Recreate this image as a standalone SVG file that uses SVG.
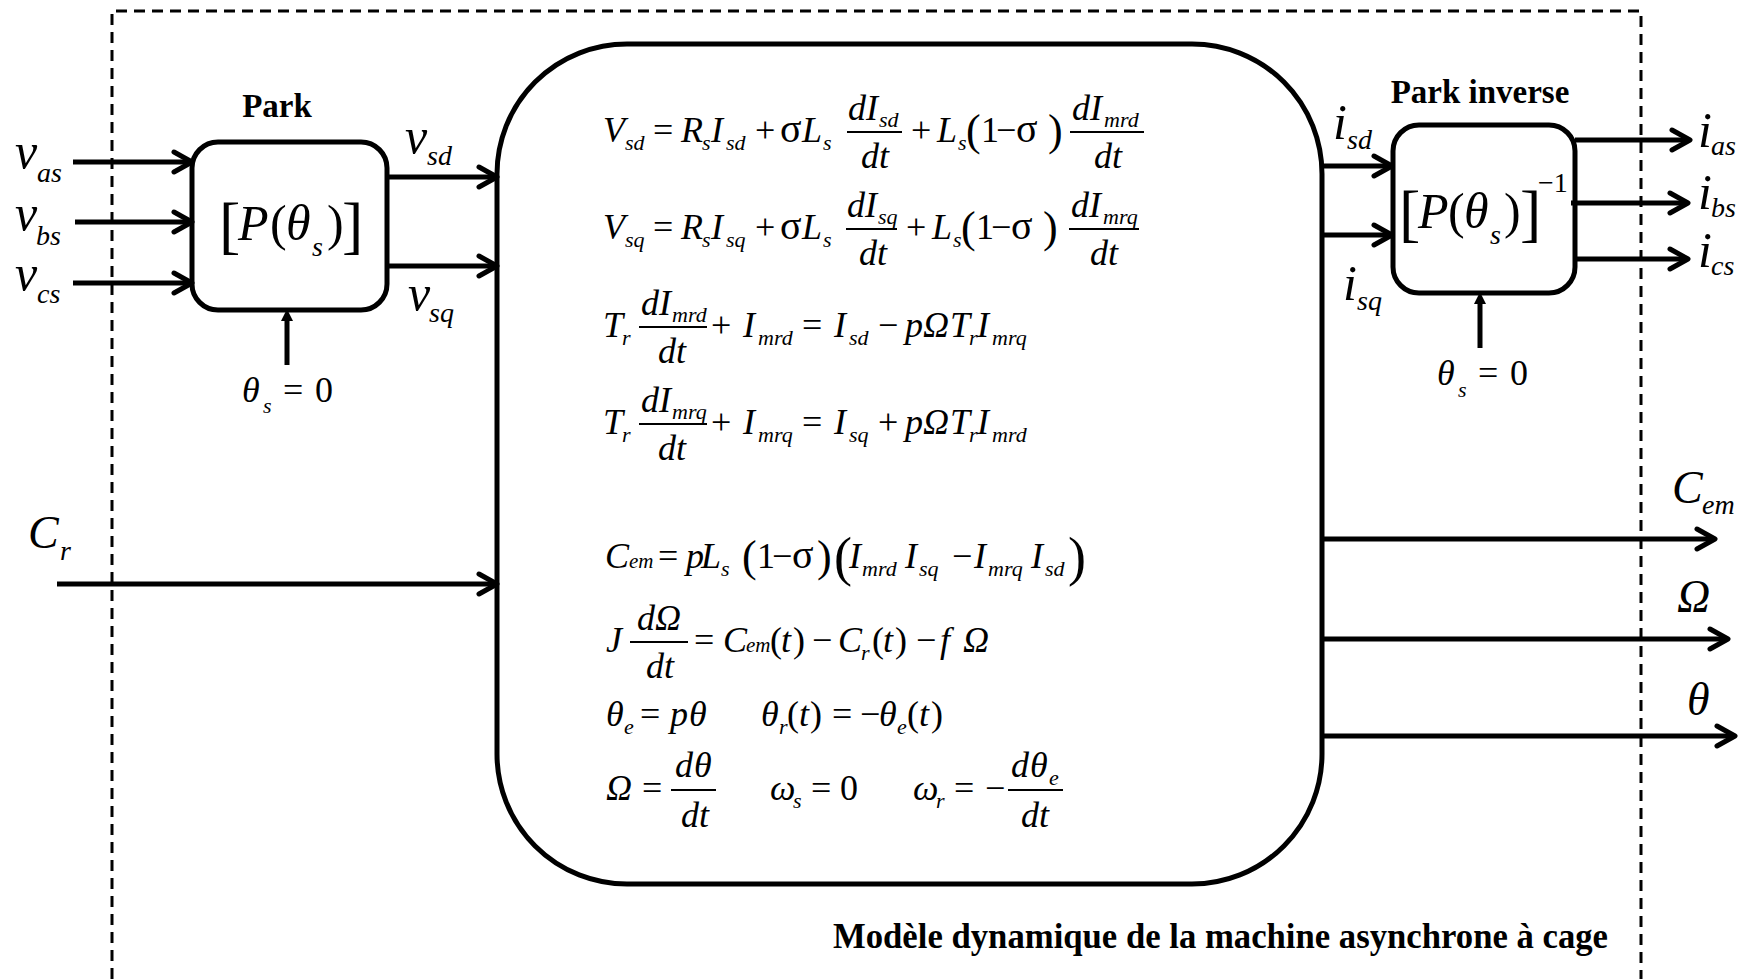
<svg xmlns="http://www.w3.org/2000/svg" width="1742" height="979" viewBox="0 0 1742 979">
<style>
.m{font-family:"Liberation Serif","Times New Roman",serif;font-style:italic;font-size:36px;fill:#000}
.r{font-style:normal}
.g{font-style:normal;font-size:40px}
.sb{font-size:22px}
.em{font-size:21px}
.pb{font-style:normal;font-size:44px}
.pB{font-style:normal;font-size:54px}
.lb{font-family:"Liberation Serif","Times New Roman",serif;font-style:italic;font-size:50px;fill:#000}
.ls{font-size:28px}
.bt{font-family:"Liberation Serif","Times New Roman",serif;font-weight:bold;font-size:33px;fill:#000}
.bar{stroke:#000;stroke-width:1.8}
.cn{stroke:#000;stroke-width:5;fill:none;marker-end:url(#ah)}
.box{fill:none;stroke:#000;stroke-width:5}
.dash{fill:none;stroke:#000;stroke-width:3;stroke-dasharray:11 7}
</style>
<defs>
<marker id="ah" markerUnits="userSpaceOnUse" viewBox="-22 -13 26 26" markerWidth="26" markerHeight="26" refX="0" refY="0" orient="auto">
<path d="M-18,-10 L0,0 L-18,10" fill="none" stroke="#000" stroke-width="5" stroke-linecap="round" stroke-linejoin="round"/>
</marker>
</defs>
<rect width="1742" height="979" fill="#fff"/>
<path id="frame" class="dash" d="M112,979 V11 H1641 V979"/>

<g id="connectors">
<line class="cn" x1="73" y1="162" x2="192" y2="162"/>
<line class="cn" x1="75" y1="222" x2="192" y2="222"/>
<line class="cn" x1="73" y1="283" x2="192" y2="283"/>
<line class="cn" x1="387" y1="177" x2="497" y2="177"/>
<line class="cn" x1="387" y1="266" x2="497" y2="266"/>
<line class="cn" x1="57" y1="584" x2="497" y2="584"/>
<line x1="287" y1="365" x2="287" y2="318" stroke="#000" stroke-width="5"/>
<polygon points="281,321 287,309 293,321" fill="#000"/>
<line class="cn" x1="1322" y1="166" x2="1392" y2="166"/>
<line class="cn" x1="1322" y1="235" x2="1392" y2="235"/>
<line class="cn" x1="1575" y1="140" x2="1690" y2="140"/>
<line class="cn" x1="1571" y1="203" x2="1688" y2="203"/>
<line class="cn" x1="1575" y1="259" x2="1688" y2="259"/>
<line x1="1480" y1="348" x2="1480" y2="301" stroke="#000" stroke-width="5"/>
<polygon points="1474,304 1480,292 1486,304" fill="#000"/>
<line class="cn" x1="1322" y1="539" x2="1715" y2="539"/>
<line class="cn" x1="1322" y1="639" x2="1728" y2="639"/>
<line class="cn" x1="1322" y1="736" x2="1735" y2="736"/>
</g>

<g id="labels">
<text class="lb"><tspan x="15" y="168">v</tspan><tspan class="ls" x="37" y="182">as</tspan></text>
<text class="lb"><tspan x="15" y="230">v</tspan><tspan class="ls" x="36" y="245">bs</tspan></text>
<text class="lb"><tspan x="15" y="290">v</tspan><tspan class="ls" x="37" y="303">cs</tspan></text>
<text class="lb"><tspan x="405" y="153">v</tspan><tspan class="ls" x="427" y="165">sd</tspan></text>
<text class="lb"><tspan x="408" y="310">v</tspan><tspan class="ls" x="429" y="322">sq</tspan></text>
<text class="lb"><tspan x="28" y="548" style="font-size:46px">C</tspan><tspan class="ls" x="60" y="560">r</tspan></text>
<text class="lb"><tspan x="1333" y="139">i</tspan><tspan class="ls" x="1347" y="149">sd</tspan></text>
<text class="lb"><tspan x="1343" y="300">i</tspan><tspan class="ls" x="1357" y="310">sq</tspan></text>
<text class="lb"><tspan x="1698" y="147">i</tspan><tspan class="ls" x="1711" y="155">as</tspan></text>
<text class="lb"><tspan x="1698" y="209">i</tspan><tspan class="ls" x="1711" y="217">bs</tspan></text>
<text class="lb"><tspan x="1698" y="267">i</tspan><tspan class="ls" x="1711" y="275">cs</tspan></text>
<text class="lb"><tspan x="1672" y="503" style="font-size:46px">C</tspan><tspan class="ls" x="1702" y="514">em</tspan></text>
<text class="lb" x="1677" y="612" style="font-size:46px">Ω</text>
<text class="lb" x="1687" y="715" style="font-size:46px">θ</text>
</g>

<g id="park">
<rect class="box" x="192" y="142" width="195" height="168" rx="26"/>
<text class="bt" x="277" y="117" text-anchor="middle">Park</text>
<text class="m"><tspan class="r" x="219" y="246" style="font-size:64px">[</tspan><tspan x="238" y="240" style="font-size:50px">P</tspan><tspan class="r" x="270" y="240" style="font-size:50px">(</tspan><tspan x="286" y="240" style="font-size:50px">θ</tspan><tspan x="312" y="256" style="font-size:28px">s</tspan><tspan class="r" x="327" y="240" style="font-size:50px">)</tspan><tspan class="r" x="342" y="246" style="font-size:64px">]</tspan></text>
<text class="m"><tspan x="242" y="402">θ</tspan><tspan class="sb" x="263" y="413">s</tspan><tspan class="r" x="283" y="402">=</tspan><tspan class="r" x="315" y="402">0</tspan></text>
</g>

<g id="park_inverse">
<rect class="box" x="1393" y="125" width="182" height="168" rx="26"/>
<text class="bt" x="1480" y="103" text-anchor="middle">Park inverse</text>
<text class="m"><tspan class="r" x="1399" y="234" style="font-size:64px">[</tspan><tspan x="1418" y="228" style="font-size:50px">P</tspan><tspan class="r" x="1448" y="228" style="font-size:50px">(</tspan><tspan x="1464" y="228" style="font-size:50px">θ</tspan><tspan x="1490" y="244" style="font-size:28px">s</tspan><tspan class="r" x="1504" y="228" style="font-size:50px">)</tspan><tspan class="r" x="1520" y="234" style="font-size:64px">]</tspan><tspan class="r" x="1538" y="192" style="font-size:28px">−1</tspan></text>
<text class="m"><tspan x="1437" y="385">θ</tspan><tspan class="sb" x="1458" y="397">s</tspan><tspan class="r" x="1478" y="385">=</tspan><tspan class="r" x="1510" y="385">0</tspan></text>
</g>

<g id="model">
<rect class="box" x="497" y="44" width="825" height="840" rx="130"/>
<!-- eq1 -->
<text class="m"><tspan x="603" y="142">V</tspan><tspan class="sb" x="625" y="150">sd</tspan><tspan class="r" x="653" y="142">=</tspan><tspan x="681" y="142">R</tspan><tspan class="sb" x="702" y="150">s</tspan><tspan x="711" y="142">I</tspan><tspan class="sb" x="726" y="150">sd</tspan><tspan class="r" x="755" y="142">+</tspan><tspan class="g" x="780" y="142">σ</tspan><tspan x="802" y="142">L</tspan><tspan class="sb" x="823" y="150">s</tspan><tspan x="848" y="120">dI</tspan><tspan class="sb" x="879" y="127">sd</tspan><tspan x="861" y="168">dt</tspan><tspan class="r" x="911" y="142">+</tspan><tspan x="937" y="142">L</tspan><tspan class="sb" x="958" y="150">s</tspan><tspan class="pb" x="966" y="145">(</tspan><tspan class="r" x="981" y="142">1</tspan><tspan class="r" x="996" y="142">−</tspan><tspan class="g" x="1016" y="142">σ</tspan><tspan class="pb" x="1048" y="145">)</tspan><tspan x="1072" y="120">dI</tspan><tspan class="sb" x="1104" y="127">mrd</tspan><tspan x="1094" y="168">dt</tspan></text>
<line class="bar" x1="847" y1="132" x2="902" y2="132"/>
<line class="bar" x1="1070" y1="132" x2="1144" y2="132"/>
<!-- eq2 -->
<text class="m"><tspan x="603" y="239">V</tspan><tspan class="sb" x="625" y="247">sq</tspan><tspan class="r" x="653" y="239">=</tspan><tspan x="681" y="239">R</tspan><tspan class="sb" x="702" y="247">s</tspan><tspan x="711" y="239">I</tspan><tspan class="sb" x="726" y="247">sq</tspan><tspan class="r" x="755" y="239">+</tspan><tspan class="g" x="780" y="239">σ</tspan><tspan x="802" y="239">L</tspan><tspan class="sb" x="823" y="247">s</tspan><tspan x="847" y="217">dI</tspan><tspan class="sb" x="878" y="224">sq</tspan><tspan x="859" y="265">dt</tspan><tspan class="r" x="906" y="239">+</tspan><tspan x="932" y="239">L</tspan><tspan class="sb" x="953" y="247">s</tspan><tspan class="pb" x="961" y="242">(</tspan><tspan class="r" x="976" y="239">1</tspan><tspan class="r" x="991" y="239">−</tspan><tspan class="g" x="1011" y="239">σ</tspan><tspan class="pb" x="1043" y="242">)</tspan><tspan x="1071" y="217">dI</tspan><tspan class="sb" x="1103" y="224">mrq</tspan><tspan x="1090" y="265">dt</tspan></text>
<line class="bar" x1="846" y1="229" x2="897" y2="229"/>
<line class="bar" x1="1069" y1="229" x2="1139" y2="229"/>
<!-- eq3 -->
<text class="m"><tspan x="603" y="337">T</tspan><tspan class="sb" x="622" y="345">r</tspan><tspan x="641" y="315">dI</tspan><tspan class="sb" x="672" y="322">mrd</tspan><tspan x="658" y="363">dt</tspan><tspan class="r" x="711" y="337">+</tspan><tspan x="743" y="337">I</tspan><tspan class="sb" x="758" y="345">mrd</tspan><tspan class="r" x="802" y="337">=</tspan><tspan x="834" y="337">I</tspan><tspan class="sb" x="849" y="345">sd</tspan><tspan class="r" x="878" y="337">−</tspan><tspan x="905" y="337">p</tspan><tspan x="923" y="337">Ω</tspan><tspan x="950" y="337">T</tspan><tspan class="sb" x="969" y="345">r</tspan><tspan x="977" y="337">I</tspan><tspan class="sb" x="992" y="345">mrq</tspan></text>
<line class="bar" x1="639" y1="327" x2="707" y2="327"/>
<!-- eq4 -->
<text class="m"><tspan x="603" y="434">T</tspan><tspan class="sb" x="622" y="442">r</tspan><tspan x="641" y="412">dI</tspan><tspan class="sb" x="672" y="419">mrq</tspan><tspan x="658" y="460">dt</tspan><tspan class="r" x="711" y="434">+</tspan><tspan x="743" y="434">I</tspan><tspan class="sb" x="758" y="442">mrq</tspan><tspan class="r" x="802" y="434">=</tspan><tspan x="834" y="434">I</tspan><tspan class="sb" x="849" y="442">sq</tspan><tspan class="r" x="878" y="434">+</tspan><tspan x="905" y="434">p</tspan><tspan x="923" y="434">Ω</tspan><tspan x="950" y="434">T</tspan><tspan class="sb" x="969" y="442">r</tspan><tspan x="977" y="434">I</tspan><tspan class="sb" x="992" y="442">mrd</tspan></text>
<line class="bar" x1="639" y1="424" x2="707" y2="424"/>
<!-- eq5 -->
<text class="m"><tspan x="605" y="568">C</tspan><tspan class="em" x="629" y="568">em</tspan><tspan class="r" x="658" y="568">=</tspan><tspan x="686" y="568">p</tspan><tspan x="701" y="568">L</tspan><tspan class="sb" x="721" y="576">s</tspan><tspan class="pb" x="742" y="571">(</tspan><tspan class="r" x="757" y="568">1</tspan><tspan class="r" x="772" y="568">−</tspan><tspan class="g" x="792" y="568">σ</tspan><tspan class="pb" x="817" y="571">)</tspan><tspan class="pB" x="834" y="575">(</tspan><tspan x="849" y="568">I</tspan><tspan class="sb" x="862" y="576">mrd</tspan><tspan x="905" y="568">I</tspan><tspan class="sb" x="919" y="576">sq</tspan><tspan class="r" x="952" y="568">−</tspan><tspan x="974" y="568">I</tspan><tspan class="sb" x="988" y="576">mrq</tspan><tspan x="1031" y="568">I</tspan><tspan class="sb" x="1045" y="576">sd</tspan><tspan class="pB" x="1068" y="575">)</tspan></text>
<!-- eq6 -->
<text class="m"><tspan x="606" y="652">J</tspan><tspan x="637" y="630">d</tspan><tspan x="655" y="630">Ω</tspan><tspan x="646" y="678">dt</tspan><tspan class="r" x="694" y="652">=</tspan><tspan x="723" y="652">C</tspan><tspan class="em" x="746" y="652">em</tspan><tspan class="r" x="770" y="652">(</tspan><tspan x="781" y="652">t</tspan><tspan class="r" x="793" y="652">)</tspan><tspan class="r" x="812" y="652">−</tspan><tspan x="838" y="652">C</tspan><tspan class="sb" x="861" y="660">r</tspan><tspan class="r" x="872" y="652">(</tspan><tspan x="883" y="652">t</tspan><tspan class="r" x="895" y="652">)</tspan><tspan class="r" x="916" y="652">−</tspan><tspan x="940" y="652">f</tspan><tspan x="963" y="652">Ω</tspan></text>
<line class="bar" x1="630" y1="642" x2="688" y2="642"/>
<!-- eq7 -->
<text class="m"><tspan x="606" y="726">θ</tspan><tspan class="sb" x="624" y="734">e</tspan><tspan class="r" x="640" y="726">=</tspan><tspan x="670" y="726">p</tspan><tspan x="689" y="726">θ</tspan><tspan x="761" y="726">θ</tspan><tspan class="sb" x="779" y="734">r</tspan><tspan class="r" x="787" y="726">(</tspan><tspan x="799" y="726">t</tspan><tspan class="r" x="810" y="726">)</tspan><tspan class="r" x="832" y="726">=</tspan><tspan class="r" x="860" y="726">−</tspan><tspan x="879" y="726">θ</tspan><tspan class="sb" x="897" y="734">e</tspan><tspan class="r" x="907" y="726">(</tspan><tspan x="919" y="726">t</tspan><tspan class="r" x="931" y="726">)</tspan></text>
<!-- eq8 -->
<text class="m"><tspan x="606" y="800">Ω</tspan><tspan class="r" x="642" y="800">=</tspan><tspan x="675" y="777">d</tspan><tspan x="694" y="777">θ</tspan><tspan x="681" y="827">dt</tspan><tspan x="770" y="800">ω</tspan><tspan class="sb" x="793" y="808">s</tspan><tspan class="r" x="811" y="800">=</tspan><tspan class="r" x="840" y="800">0</tspan><tspan x="913" y="800">ω</tspan><tspan class="sb" x="936" y="808">r</tspan><tspan class="r" x="954" y="800">=</tspan><tspan class="r" x="985" y="800">−</tspan><tspan x="1011" y="777">d</tspan><tspan x="1030" y="777">θ</tspan><tspan class="sb" x="1049" y="785">e</tspan><tspan x="1021" y="827">dt</tspan></text>
<line class="bar" x1="671" y1="790" x2="716" y2="790"/>
<line class="bar" x1="1008" y1="790" x2="1063" y2="790"/>
<text class="bt" x="833" y="948" style="font-size:35px" textLength="775" lengthAdjust="spacingAndGlyphs">Modèle dynamique de la machine asynchrone à cage</text>
</g>
</svg>
